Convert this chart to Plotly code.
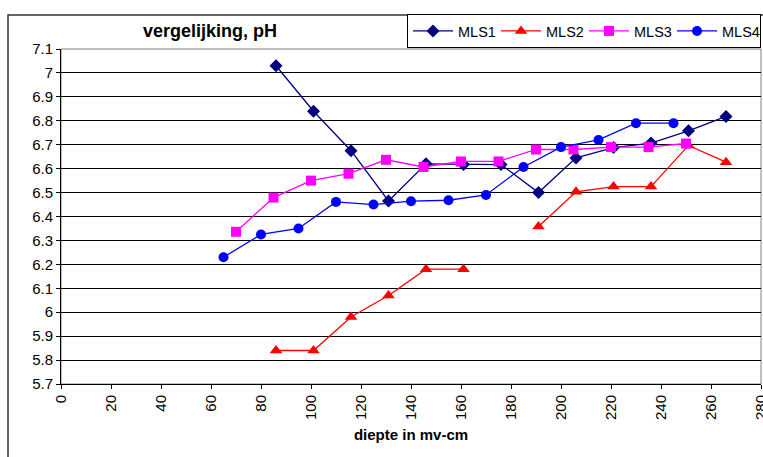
import plotly.graph_objects as go

# pH readings against depth (cm below ground level) for four multilevel samplers
mls1_depth = [86, 101, 116, 131, 146, 161, 176, 191, 206, 221, 236, 251, 266]
mls1_ph = [7.03, 6.84, 6.675, 6.465, 6.62, 6.617, 6.617, 6.50, 6.645, 6.688, 6.707, 6.758, 6.818]

# no MLS2 reading at 176 cm, so the line breaks there
mls2_depth = [86, 101, 116, 131, 146, 161, 176, 191, 206, 221, 236, 251, 266]
mls2_ph = [5.84, 5.84, 5.98, 6.07, 6.18, 6.18, None, 6.358, 6.503, 6.525, 6.525, 6.697, 6.627]

mls3_depth = [70, 85, 100, 115, 130, 145, 160, 175, 190, 205, 220, 235, 250]
mls3_ph = [6.336, 6.479, 6.55, 6.579, 6.637, 6.607, 6.63, 6.63, 6.68, 6.68, 6.69, 6.69, 6.705]

mls4_depth = [65, 80, 95, 110, 125, 140, 155, 170, 185, 200, 215, 230, 245]
mls4_ph = [6.23, 6.325, 6.35, 6.461, 6.45, 6.464, 6.468, 6.49, 6.607, 6.69, 6.72, 6.79, 6.79]

series_names = ["MLS1", "MLS2", "MLS3", "MLS4"]
x_ticks = list(range(0, 281, 20))
y_ticks = [round(5.7 + 0.1 * i, 1) for i in range(15)]
y_tick_text = ["7" if v == 7.0 else ("6" if v == 6.0 else f"{v:.1f}") for v in y_ticks]

FONT = "Liberation Sans, Arial, sans-serif"

styles = [
    dict(color="#000080", symbol="diamond", size=10),
    dict(color="#FF0000", symbol="triangle-up", size=11),
    dict(color="#FF00FF", symbol="square", size=10),
    dict(color="#0000FF", symbol="circle", size=10),
]
data = [(mls1_depth, mls1_ph), (mls2_depth, mls2_ph), (mls3_depth, mls3_ph), (mls4_depth, mls4_ph)]

fig = go.Figure()
for name, (xs, ys), st in zip(series_names, data, styles):
    fig.add_trace(go.Scatter(
        x=xs, y=ys, name=name, mode="lines+markers",
        line=dict(color=st["color"], width=1.3),
        marker=dict(color=st["color"], symbol=st["symbol"], size=st["size"],
                    line=dict(width=0)),
        connectgaps=False,
        cliponaxis=False,
    ))

# outer chart frame
fig.add_shape(type="rect", xref="paper", yref="paper",
              x0=-0.0757, x1=1.05, y0=-0.4, y1=1.1015,
              line=dict(color="#333333", width=1.5), fillcolor="rgba(0,0,0,0)",
              layer="below")
# plot area border
fig.add_shape(type="rect", xref="paper", yref="paper",
              x0=0, x1=1, y0=0, y1=1,
              line=dict(color="#808080", width=1), fillcolor="rgba(0,0,0,0)",
              layer="below")

fig.update_layout(
    width=763, height=457,
    margin=dict(l=61, r=2, t=49, b=73, autoexpand=False),
    paper_bgcolor="white", plot_bgcolor="white",
    font=dict(family=FONT, size=14, color="black"),
    title=dict(text="<b>vergelijking, pH</b>", x=210 / 763, xanchor="center",
               y=1 - 31 / 457, yanchor="middle",
               font=dict(family=FONT, size=18, color="black")),
    showlegend=True,
    legend=dict(orientation="h", x=1, xanchor="right",
                y=(384 - 14) / 335, yanchor="top",
                bordercolor="black", borderwidth=1, bgcolor="white",
                font=dict(family=FONT, size=14.5, color="black"),
                itemwidth=40,
                entrywidth=33, entrywidthmode="pixels",
                traceorder="normal"),
    xaxis=dict(range=[0, 280], tickvals=x_ticks, ticktext=[str(v) for v in x_ticks],
               tickangle=-90, ticks="outside", ticklen=4, tickcolor="black",
               showline=True, linecolor="black", linewidth=1,
               showgrid=False, zeroline=False, automargin=False,
               ticklabeloverflow="allow",
               tickfont=dict(family=FONT, size=15),
               title=dict(text="<b>diepte in mv-cm</b>", standoff=10,
                          font=dict(family=FONT, size=15))),
    yaxis=dict(range=[5.7, 7.1], tickvals=y_ticks, ticktext=y_tick_text,
               ticks="outside", ticklen=4, tickcolor="black",
               showline=True, linecolor="black", linewidth=1,
               showgrid=True, gridcolor="black", gridwidth=1, zeroline=False,
               automargin=False,
               tickfont=dict(family=FONT, size=15)),
)

fig.write_html("out.html")
